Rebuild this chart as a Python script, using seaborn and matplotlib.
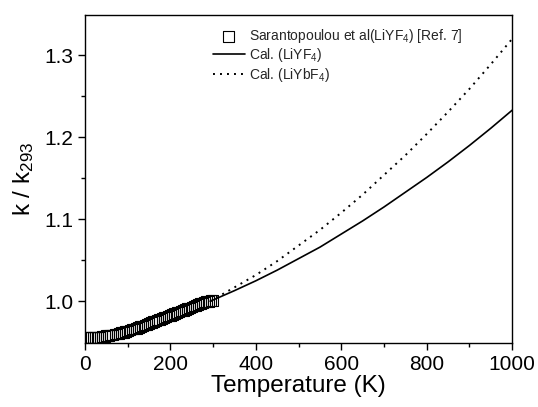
import numpy as np
import pandas as pd
import matplotlib
matplotlib.use('Agg')
import matplotlib.pyplot as plt
import seaborn as sns

# measured points (Sarantopoulou et al, LiYF4)
meas_T = [0, 5, 10, 15, 20, 25, 30, 35, 40, 45, 50, 55, 60, 65, 70, 75, 80, 85, 90, 95,
          100, 105, 110, 115, 120, 125, 130, 135, 140, 145, 150, 155, 160, 165, 170, 175,
          180, 185, 190, 195, 200, 205, 210, 215, 220, 225, 230, 235, 240, 245, 250, 255,
          260, 265, 270, 275, 280, 285, 290, 295, 300]
meas_k = [0.956, 0.956, 0.956, 0.956, 0.956, 0.956, 0.956, 0.956, 0.957, 0.957,
          0.958, 0.958, 0.959, 0.959, 0.960, 0.960, 0.961, 0.962, 0.962, 0.963,
          0.964, 0.965, 0.966, 0.966, 0.967, 0.968, 0.969, 0.970, 0.971, 0.972,
          0.973, 0.974, 0.975, 0.976, 0.977, 0.978, 0.979, 0.980, 0.981, 0.982,
          0.983, 0.984, 0.985, 0.986, 0.987, 0.988, 0.989, 0.990, 0.991, 0.992,
          0.993, 0.994, 0.995, 0.996, 0.997, 0.998, 0.999, 1.000, 1.000, 1.001, 1.001]

# calculated curves
cal_T = [293, 350, 400, 450, 500, 550, 600, 650, 700, 750, 800, 850, 900, 950, 1000]
cal_liyf4 = [1.000, 1.013, 1.025, 1.038, 1.052, 1.066, 1.082, 1.098, 1.115, 1.133,
             1.151, 1.170, 1.190, 1.211, 1.233]
cal_liybf4 = [1.000, 1.017, 1.032, 1.049, 1.068, 1.087, 1.108, 1.130, 1.154, 1.178,
              1.204, 1.231, 1.259, 1.289, 1.320]

sns.set_theme(style='ticks')
plt.rcParams['font.family'] = ['Liberation Sans', 'DejaVu Sans']
plt.rcParams['mathtext.fontset'] = 'custom'
plt.rcParams['mathtext.rm'] = 'Liberation Sans'
plt.rcParams['mathtext.it'] = 'Liberation Sans'
plt.rcParams['mathtext.default'] = 'regular'

meas = pd.DataFrame({'T': meas_T, 'k': meas_k})
cal = pd.DataFrame({'T': cal_T, 'LiYF4': cal_liyf4, 'LiYbF4': cal_liybf4})

fig = plt.figure(figsize=(5.38, 4.07), dpi=100)
ax = fig.add_axes([0.158, 0.157, 0.794, 0.806])

sns.scatterplot(data=meas, x='T', y='k', marker='s', s=58, facecolor='none',
                edgecolor='black', linewidth=0.8, ax=ax,
                label='Sarantopoulou et al(LiYF$_4$) [Ref. 7]')
sns.lineplot(data=cal, x='T', y='LiYF4', color='black', lw=1.2, ax=ax,
             label='Cal. (LiYF$_4$)')
sns.lineplot(data=cal, x='T', y='LiYbF4', color='black', lw=1.4,
             linestyle=(0, (1, 2.6)), ax=ax, label='Cal. (LiYbF$_4$)')

ax.set_xlim(0, 1000)
ax.set_ylim(0.949, 1.349)
ax.set_xticks([0, 200, 400, 600, 800, 1000])
ax.set_xticks([100, 300, 500, 700, 900], minor=True)
ax.set_yticks([1.0, 1.1, 1.2, 1.3])
ax.set_yticks([1.05, 1.15, 1.25], minor=True)
ax.tick_params(which='major', direction='out', length=5, width=1, labelsize=15,
               top=False, right=False, color='black', labelcolor='black')
ax.tick_params(which='minor', direction='out', length=3, width=1,
               top=False, right=False, color='black')
for s in ax.spines.values():
    s.set_visible(True)
    s.set_color('black')
    s.set_linewidth(1)

ax.set_xlabel('Temperature (K)', fontsize=17.5, color='black', labelpad=1)
ax.set_ylabel('k / k$_{293}$', fontsize=17.5, color='black', labelpad=6)

ax.legend(loc='upper left', bbox_to_anchor=(0.271, 1.0), frameon=False, fontsize=10,
          handlelength=2.3, handletextpad=0.35, labelspacing=0.1, borderaxespad=0.45)

fig.savefig('out.png', dpi=100)
